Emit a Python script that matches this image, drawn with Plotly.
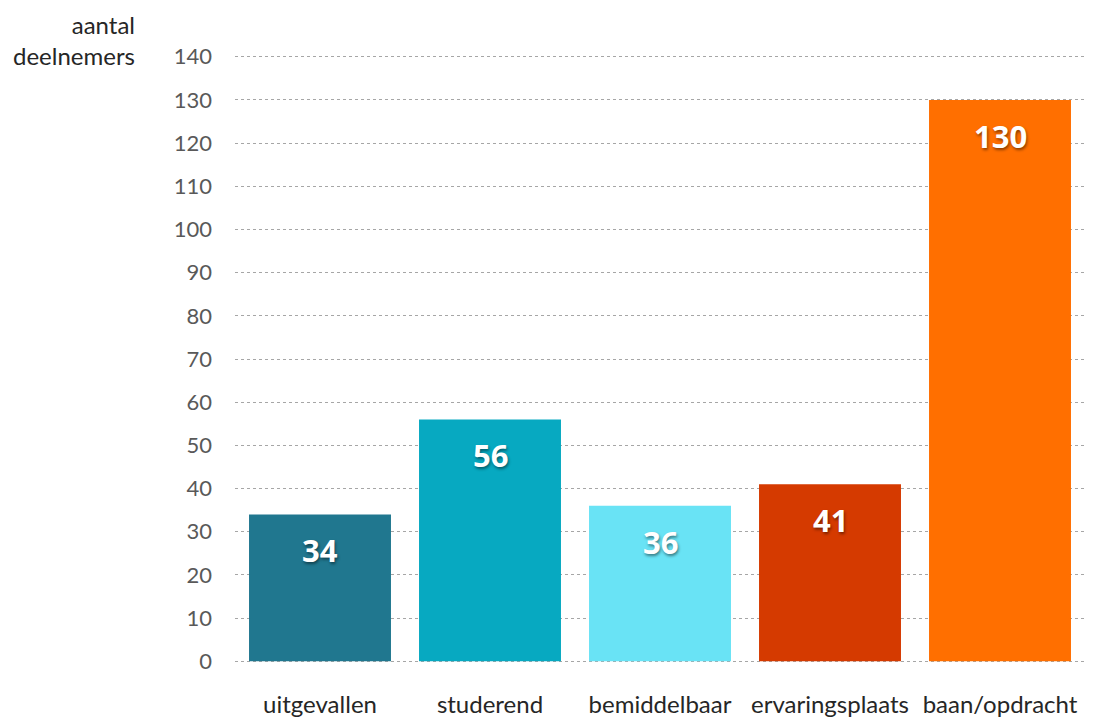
import plotly.graph_objects as go

categories = ["uitgevallen", "studerend", "bemiddelbaar", "ervaringsplaats", "baan/opdracht"]
values = [34, 56, 36, 41, 130]
colors = ["#20778F", "#07A9C1", "#69E3F5", "#D53A00", "#FF6F00"]
y_ticks = list(range(0, 141, 10))

# page body has an 8px offset; margins compensate for it
W, H = 1098, 718
ML, MR, MT, MB = 227, 21, 47, 63
PW, PH = W - ML - MR, H - MT - MB

fig = go.Figure()
fig.add_trace(go.Bar(
    x=categories, y=values, marker=dict(color=colors, line=dict(width=0)),
    hoverinfo="skip", showlegend=False,
))

for c, v in zip(categories, values):
    fig.add_annotation(
        x=c, y=v, xref="x", yref="y", text=f"<b>{v}</b>", showarrow=False,
        yanchor="middle", yshift=-36,
        font=dict(family="Open Sans", size=31, color="white",
                  shadow="1px 2px 3px rgba(0,0,0,0.45)"),
    )

fig.add_annotation(
    x=(129 - ML) / PW, y=1 + (MT - 32) / PH, xref="paper", yref="paper",
    text="aantal<br>deelnemers",
    showarrow=False, xanchor="right", yanchor="middle", align="right",
    font=dict(family="Lato", size=24, color="#262626"),
)

fig.update_layout(
    width=W, height=H,
    margin=dict(l=ML, r=MR, t=MT, b=MB),
    plot_bgcolor="white", paper_bgcolor="white",
    bargap=0.165,
    xaxis=dict(
        showgrid=False, showline=False, zeroline=False, automargin=False,
        tickfont=dict(family="Lato", size=24, color="#262626"),
        ticklabelstandoff=25,
    ),
    yaxis=dict(
        range=[-0.4, 140.4], tickvals=y_ticks, showgrid=True,
        gridcolor="#A6A6A6", griddash="dot", gridwidth=1,
        zeroline=False, showline=False, automargin=False,
        tickfont=dict(family="Lato", size=22, color="#595959"),
        ticklabelstandoff=22,
    ),
)

fig.write_html("out.html")
